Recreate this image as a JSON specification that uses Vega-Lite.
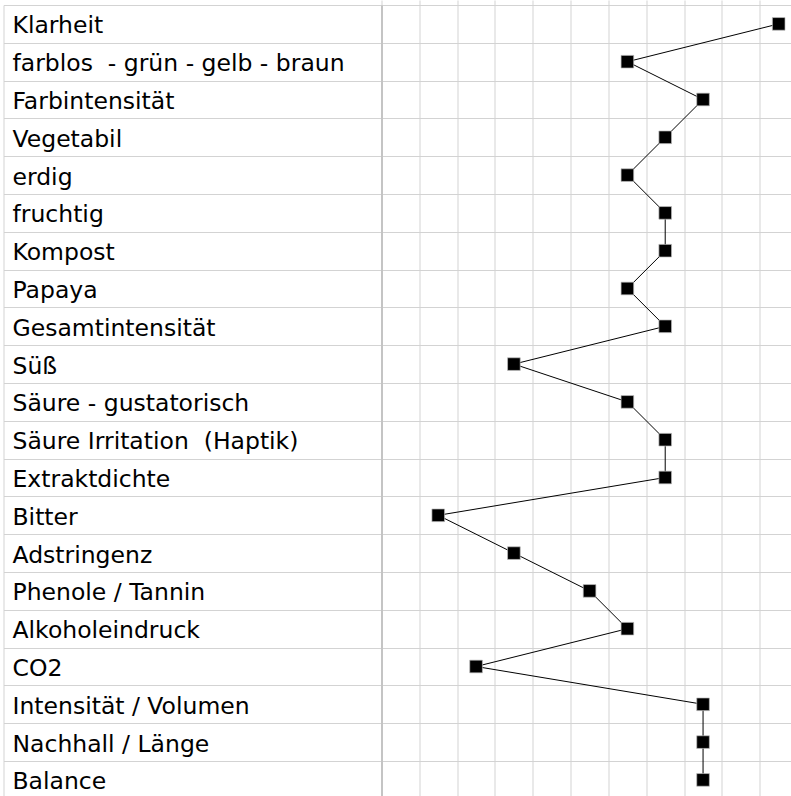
{
  "$schema": "https://vega.github.io/schema/vega-lite/v6.json",
  "width": 409.5,
  "height": 791,
  "autosize": {"type": "none"},
  "padding": {"left": 381.5, "top": 5, "right": 0, "bottom": 0},
  "background": "white",
  "config": {
    "view": {"stroke": null},
    "axis": {"gridColor": "#d3d3d3", "gridWidth": 1, "tickColor": "#d3d3d3", "tickWidth": 1, "domainColor": "#c4c4c4"}
  },
  "data": {
    "values": [
      {"attribut": "Klarheit", "wert": 10},
      {"attribut": "farblos \u00a0- grün - gelb - braun", "wert": 6},
      {"attribut": "Farbintensität", "wert": 8},
      {"attribut": "Vegetabil", "wert": 7},
      {"attribut": "erdig", "wert": 6},
      {"attribut": "fruchtig", "wert": 7},
      {"attribut": "Kompost", "wert": 7},
      {"attribut": "Papaya", "wert": 6},
      {"attribut": "Gesamtintensität", "wert": 7},
      {"attribut": "Süß", "wert": 3},
      {"attribut": "Säure - gustatorisch", "wert": 6},
      {"attribut": "Säure Irritation \u00a0(Haptik)", "wert": 7},
      {"attribut": "Extraktdichte", "wert": 7},
      {"attribut": "Bitter", "wert": 1},
      {"attribut": "Adstringenz", "wert": 3},
      {"attribut": "Phenole / Tannin", "wert": 5},
      {"attribut": "Alkoholeindruck", "wert": 6},
      {"attribut": "CO2", "wert": 2},
      {"attribut": "Intensität / Volumen", "wert": 8},
      {"attribut": "Nachhall / Länge", "wert": 8},
      {"attribut": "Balance", "wert": 8}
    ]
  },
  "layer": [
    {
      "mark": {"type": "line", "color": "black", "strokeWidth": 1},
      "encoding": {
        "x": {
          "field": "wert", "type": "quantitative",
          "scale": {"domain": [-0.5, 10.325], "nice": false, "zero": false},
          "axis": {"orient": "top", "values": [-0.5, 0.5, 1.5, 2.5, 3.5, 4.5, 5.5, 6.5, 7.5, 8.5, 9.5], "grid": true, "tickSize": 5, "labels": false, "domain": false, "title": null}
        },
        "y": {
          "field": "attribut", "type": "nominal", "sort": null,
          "scale": {"type": "band", "paddingInner": 0, "paddingOuter": 0, "range": [0, 793.8]},
          "axis": {"orient": "left", "title": null, "grid": true, "tickBand": "extent", "tickSize": 378, "labelPadding": -8.5, "labelAlign": "left", "labelBaseline": "alphabetic", "labelOffset": 9, "labelFont": "DejaVu Sans", "labelFontSize": 23.5, "labelColor": "black", "labelLimit": 380, "labelOverlap": false, "domain": true, "domainWidth": 2, "domainColor": "#c4c4c4"}
        },
        "order": {"value": null}
      }
    },
    {
      "mark": {"type": "point", "shape": "square", "filled": true, "color": "black", "size": 160, "opacity": 1, "stroke": "#bbbbbb", "strokeWidth": 0.7},
      "encoding": {
        "x": {
          "field": "wert", "type": "quantitative",
          "scale": {"domain": [-0.5, 10.325], "nice": false, "zero": false},
          "axis": {"orient": "top", "values": [-0.5, 0.5, 1.5, 2.5, 3.5, 4.5, 5.5, 6.5, 7.5, 8.5, 9.5], "grid": true, "tickSize": 5, "labels": false, "domain": false, "title": null}
        },
        "y": {
          "field": "attribut", "type": "nominal", "sort": null,
          "scale": {"type": "band", "paddingInner": 0, "paddingOuter": 0, "range": [0, 793.8]},
          "axis": {"orient": "left", "offset": 378, "title": null, "grid": false, "ticks": false, "labels": false, "domain": true, "domainWidth": 1, "domainColor": "#d3d3d3"}
        }
      }
    }
  ],
  "resolve": {"axis": {"y": "independent"}}
}
